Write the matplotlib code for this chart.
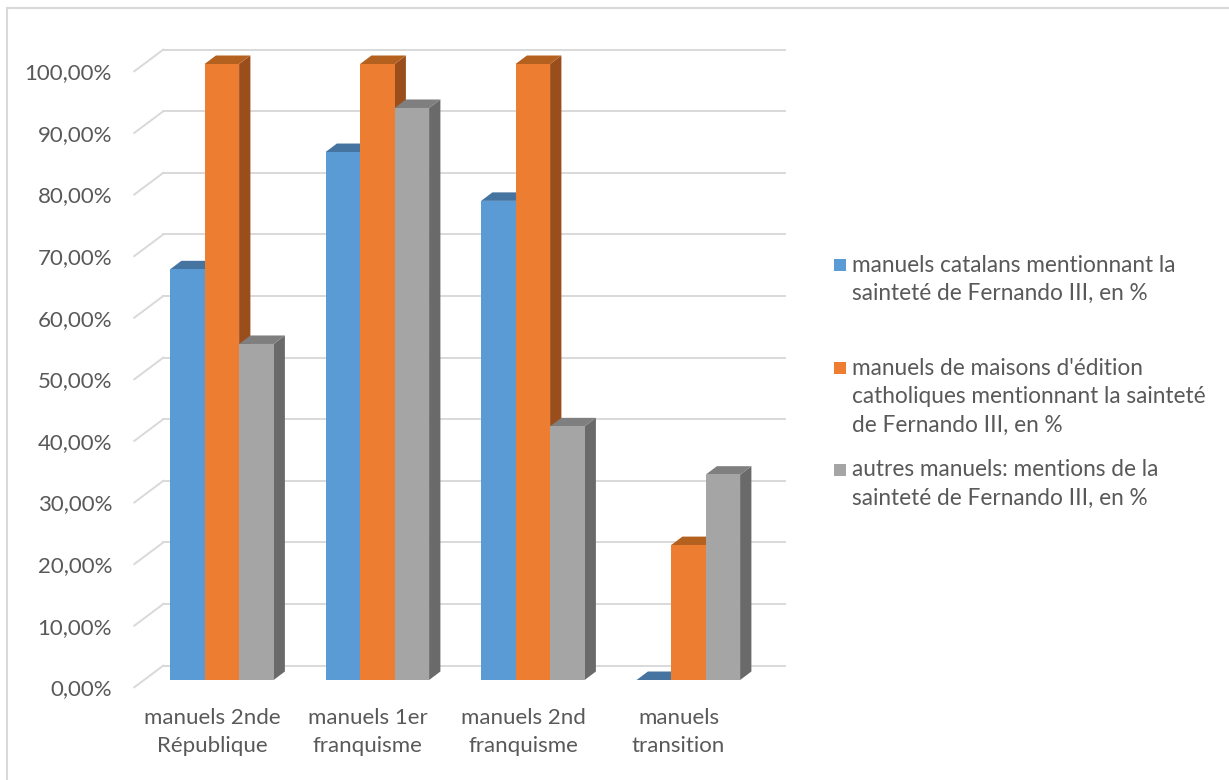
import matplotlib
matplotlib.use("Agg")
import matplotlib.pyplot as plt
from matplotlib.patches import Polygon, Rectangle
from matplotlib.lines import Line2D

# ---------------- data ----------------
categories = ["manuels 2nde\nRépublique", "manuels 1er\nfranquisme",
              "manuels 2nd\nfranquisme", "manuels\ntransition"]
series_names = [
    ["manuels catalans mentionnant la", "sainteté de Fernando III, en %"],
    ["manuels de maisons d'édition", "catholiques mentionnant la sainteté", "de Fernando III, en %"],
    ["autres manuels: mentions de la", "sainteté de Fernando III, en %"],
]
catalans = [66.67, 85.71, 77.78, 0.0]
catholiques = [100.0, 100.0, 100.0, 21.9]
autres = [54.55, 92.86, 41.18, 33.33]
yticks = [0, 10, 20, 30, 40, 50, 60, 70, 80, 90, 100]
ytick_labels = ["0,00%", "10,00%", "20,00%", "30,00%", "40,00%", "50,00%",
                "60,00%", "70,00%", "80,00%", "90,00%", "100,00%"]

# ---------------- style ----------------
front_cols = ["#5B9BD5", "#ED7D31", "#A5A5A5"]
top_cols = ["#4674A0", "#B4611F", "#7F7F7F"]
side_cols = ["#3E6690", "#9A4E1C", "#6A6A6A"]
text_col = "#595959"
grid_col = "#D9D9D9"
FONT = ["Lato", "DejaVu Sans"]
FS = 16

W, H = 1229, 780
fig = plt.figure(figsize=(W / 100, H / 100), dpi=100)

# axes = front plane of the 3D box (pixels measured from top-left)
x_left, x_right = 134.3, 756.3
y_zero, y_hundred = 687.3, 71.3
ax = fig.add_axes([x_left / W, (H - y_zero) / H, (x_right - x_left) / W, (y_zero - y_hundred) / H])
ax.set_xlim(-0.5, 3.5)
ax.set_ylim(0, 100)

px_x = 4.0 / (x_right - x_left)        # data x per pixel
px_y = 100.0 / (y_zero - y_hundred)    # data y per pixel

# depth offsets (pixels)
floor_dx, floor_dy = 29.0, 21.7
bar_off_dx, bar_off_dy = 9.8, 7.3
bar_dx, bar_dy = 11.3, 8.5

FDX, FDY = floor_dx * px_x, floor_dy * px_y

# gridlines: back wall and left wall
for v in yticks:
    ax.add_line(Line2D([-0.5 + FDX, 3.5 + FDX], [v + FDY, v + FDY], color=grid_col, lw=1.4,
                       zorder=1, clip_on=False))
    ax.add_line(Line2D([-0.5, -0.5 + FDX], [v, v + FDY], color=grid_col, lw=1.4, zorder=1,
                       clip_on=False))

# bars
series = [catalans, catholiques, autres]
bw = 34.5 * px_x
ox, oy = bar_off_dx * px_x, bar_off_dy * px_y
bdx, bdy = bar_dx * px_x, bar_dy * px_y
z = 5
for i in range(len(categories)):
    for k, vals in enumerate(series):
        x0 = i + ox + (k - 1.5) * bw
        bot = oy
        top = oy + vals[i]
        side = Polygon([(x0 + bw, bot), (x0 + bw, top), (x0 + bw + bdx, top + bdy), (x0 + bw + bdx, bot + bdy)],
                       closed=True, facecolor=side_cols[k], edgecolor="none", zorder=z, clip_on=False)
        ax.add_patch(side)
        topf = Polygon([(x0, top), (x0 + bw, top), (x0 + bw + bdx, top + bdy), (x0 + bdx, top + bdy)],
                       closed=True, facecolor=top_cols[k], edgecolor="none", zorder=z + 1, clip_on=False)
        ax.add_patch(topf)
        ax.bar(x0, vals[i], width=bw, bottom=bot, align="edge", color=front_cols[k],
               edgecolor="none", zorder=z + 2, clip_on=False)
        z += 3

for s in ax.spines.values():
    s.set_visible(False)
ax.set_yticks(yticks)
ax.set_yticklabels(ytick_labels)
ax.set_xticks(range(len(categories)))
ax.set_xticklabels(categories, linespacing=1.52)
ax.tick_params(axis="y", length=0, pad=16, labelsize=FS, labelcolor=text_col)
ax.tick_params(axis="x", length=0, pad=15, labelsize=FS, labelcolor=text_col)
for lab in ax.get_xticklabels() + ax.get_yticklabels():
    lab.set_family(FONT)

# legend (manual layout)
leg_lines = [[265, 293.3], [368.3, 396.7, 425], [470, 498.3]]
for k, (names, ys) in enumerate(zip(series_names, leg_lines)):
    fig.add_artist(Rectangle((834 / W, 1 - (ys[0] + 6) / H), 12 / W, 12 / H,
                             transform=fig.transFigure, facecolor=front_cols[k], edgecolor="none"))
    for txt, yy in zip(names, ys):
        fig.text(852 / W, 1 - yy / H, txt, ha="left", va="center", fontsize=16.3,
                 color=text_col, family=FONT)

# chart border
fig.add_artist(Line2D([7 / W, 7 / W], [0, 1 - 8 / H], transform=fig.transFigure, color=grid_col, lw=1.5))
fig.add_artist(Line2D([7 / W, 1], [1 - 8 / H, 1 - 8 / H], transform=fig.transFigure, color=grid_col, lw=1.5))

fig.savefig("out.png", dpi=100)
